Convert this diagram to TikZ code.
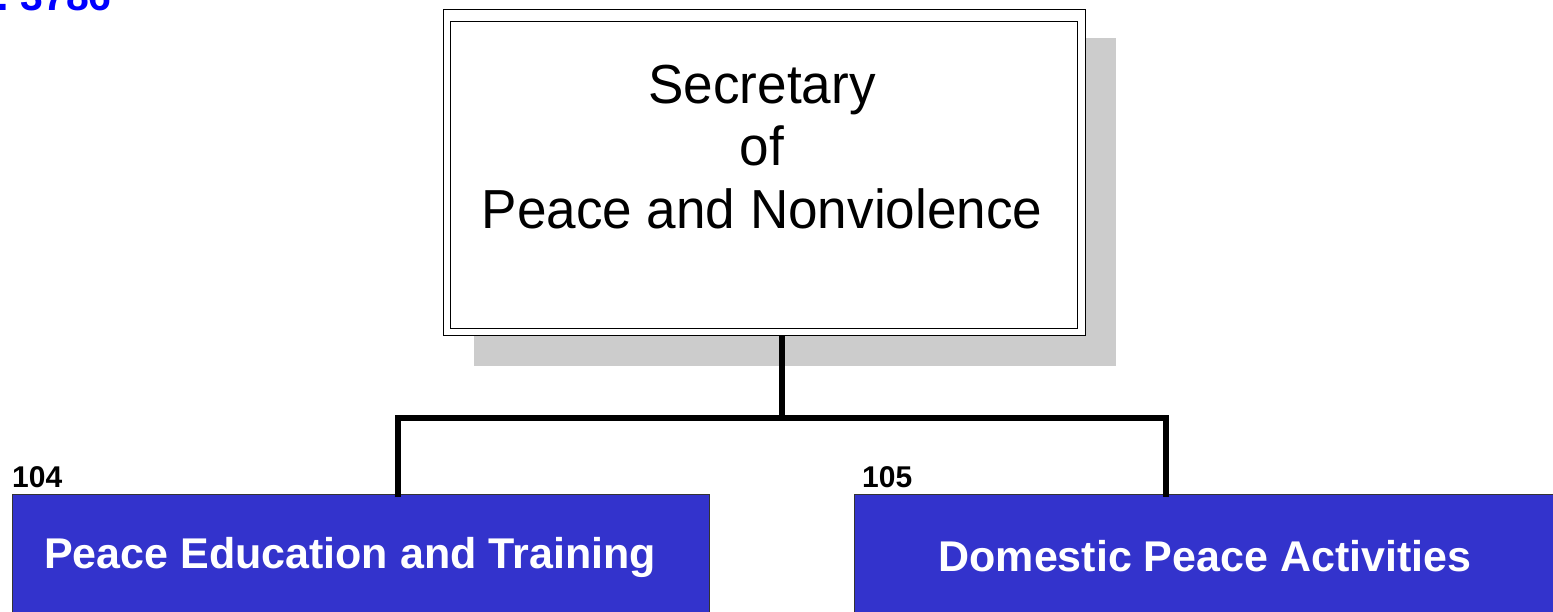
\documentclass[tikz,border=0pt]{standalone}
\usepackage{fontspec}
\setmainfont{Liberation Sans}
\newfontfamily\condreg[FakeStretch=0.965]{Liberation Sans}
\newfontfamily\boldsans{Liberation Sans Bold}
\definecolor{unitblue}{RGB}{51,51,204}
\definecolor{shadowgray}{RGB}{204,204,204}
\begin{document}
\begin{tikzpicture}[x=1pt,y=-1pt,
  unitbox/.style={draw=black!80,line width=1pt,fill=unitblue,anchor=north west,inner sep=0pt},
  unittext/.style={text=white,font=\boldsans\fontsize{43}{48}\selectfont,anchor=base},
  unitnum/.style={font=\boldsans\fontsize{30}{32}\selectfont,anchor=base west,inner sep=0pt},
  sectext/.style={font=\condreg\fontsize{55}{62}\selectfont,anchor=base},
  link/.style={line width=6pt}]
\useasboundingbox (0,0) rectangle (1553,611);
\clip (0,0) rectangle (1553,611);
% bill reference, partly off the top edge
\node[font=\boldsans\fontsize{41}{44}\selectfont,text=blue,anchor=base east,inner sep=0pt] (bill) at (112,10) {H.R. 3786};
% secretary box with drop shadow and double frame
\fill[shadowgray] (474,38) rectangle (1116,366);
\node[draw=black,line width=1pt,fill=white,anchor=north west,minimum width=642pt,minimum height=326pt,inner sep=0pt] (sec) at (443,9) {};
\draw[line width=1pt] (450,21) rectangle (1077,328);
\node[sectext] (l1) at (762,103) {Secretary};
\node[sectext] (l2) at (762,165) {of};
\node[sectext] (l3) at (762,228) {Peace and Nonviolence};
% units
\node[unitbox,minimum width=697pt,minimum height=140pt] (pet) at (12,494) {};
\node[unitbox,minimum width=720pt,minimum height=140pt] (dpa) at (854,494) {};
\node[unittext] (petlabel) at (350,568) {Peace Education and Training};
\node[unittext] (dpalabel) at (1205,571) {Domestic Peace Activities};
\node[unitnum] (n104) at (12,487) {104};
\node[unitnum] (n105) at (862,487) {105};
% connectors
\coordinate (split) at (782,418);
\draw[link] (sec.south -| split) -- (split);
\draw[link] (398,497) |- (split) -| (1166,497);
\end{tikzpicture}
\end{document}
